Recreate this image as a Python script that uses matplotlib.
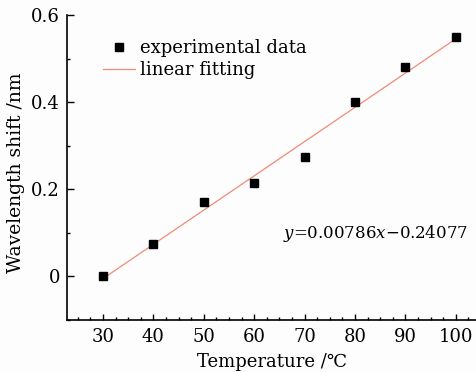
import matplotlib
matplotlib.use("Agg")
import matplotlib.pyplot as plt
from matplotlib.ticker import MultipleLocator
import numpy as np

temperature = [30, 40, 50, 60, 70, 80, 90, 100]
shift = [0.0, 0.075, 0.17, 0.215, 0.275, 0.40, 0.48, 0.55]
slope = 0.00786
intercept = -0.24077
x_ticks = [30, 40, 50, 60, 70, 80, 90, 100]
y_ticks = [0, 0.2, 0.4, 0.6]
y_tick_labels = ["0", "0.2", "0.4", "0.6"]

plt.rcParams['font.family'] = ['DejaVu Serif', 'DejaVu Sans']
plt.rcParams['mathtext.fontset'] = 'dejavuserif'

fig = plt.figure(figsize=(4.77, 3.72), dpi=100)
fig.patch.set_facecolor('#fdfdfd')
ax = fig.add_axes([0.1405, 0.1398, 0.8595, 0.82])
ax.set_facecolor('#fdfdfd')

fit_x = np.array([temperature[0], temperature[-1]])
fit_y = slope * fit_x + intercept
ax.plot(fit_x, fit_y, color='#f08a78', lw=0.9, label='linear fitting', zorder=2)
ax.plot(temperature, shift, ls='none', marker='s', ms=5.5, color='black',
        label='experimental data', zorder=3)

ax.set_xlim(22.86, 104.2)
ax.set_ylim(-0.1, 0.6)
ax.set_xticks(x_ticks)
ax.set_yticks(y_ticks)
ax.set_yticklabels(y_tick_labels)
ax.xaxis.set_minor_locator(MultipleLocator(2.5))
ax.yaxis.set_minor_locator(MultipleLocator(0.1))
ax.tick_params(axis='both', which='major', direction='in', length=5, width=1,
               labelsize=13, pad=5)
ax.tick_params(axis='x', which='major', length=4, pad=5.5)
ax.tick_params(axis='both', which='minor', direction='in', length=2.5, width=1)
for s in ['top', 'right']:
    ax.spines[s].set_visible(False)
for s in ['left', 'bottom']:
    ax.spines[s].set_linewidth(1.2)

ax.set_xlabel('Temperature /\u2103', fontsize=13, labelpad=5)
ax.set_ylabel('Wavelength shift /nm', fontsize=13.5)
ax.yaxis.set_label_coords(-0.102, 0.482)

handles, labels = ax.get_legend_handles_labels()
ax.legend(handles[::-1], labels[::-1], loc='upper left', bbox_to_anchor=(0.088, 0.92),
          frameon=False, fontsize=13, handlelength=1.78, handletextpad=0.25,
          labelspacing=0.22, borderpad=0, borderaxespad=0)

ax.text(0.527, 0.285, r'$y$=0.00786$x$' + '\u22120.24077',
        transform=ax.transAxes, fontsize=12, ha='left', va='center')

fig.savefig('out.png', dpi=100, facecolor=fig.get_facecolor())
